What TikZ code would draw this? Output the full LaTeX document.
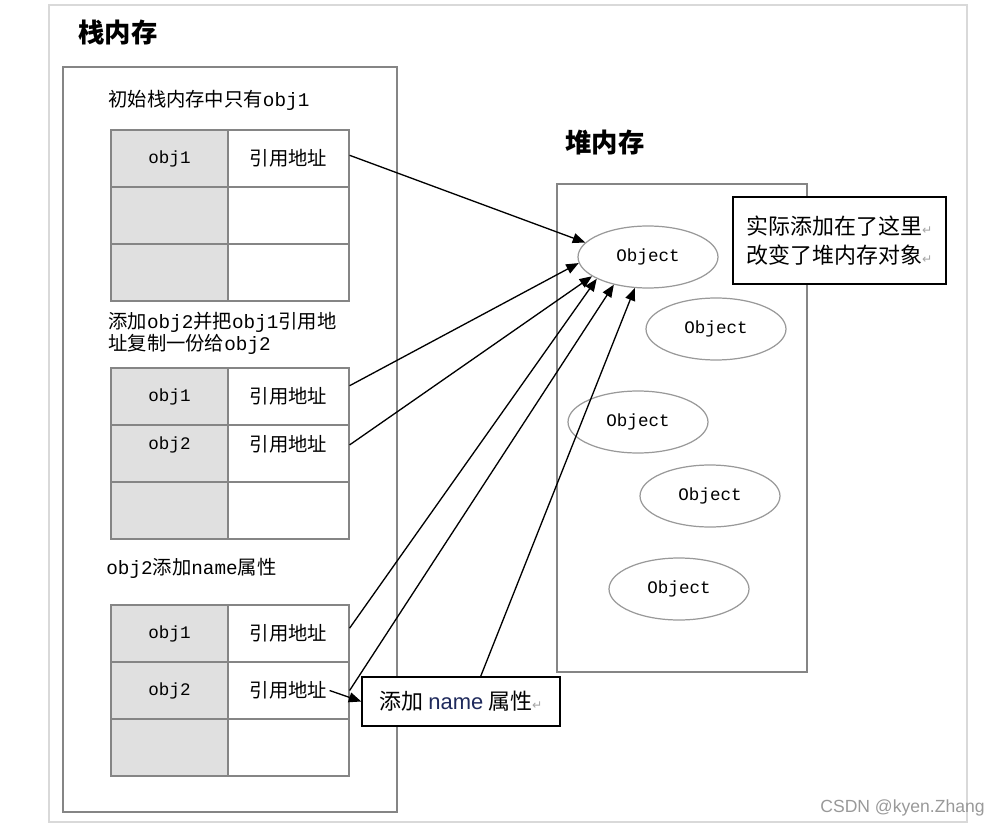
\documentclass[tikz,border=0pt]{standalone}
\usepackage{fontspec}
\setmainfont{Noto Sans CJK SC}
\setmonofont{Liberation Mono}
\newfontfamily\symfont{DejaVu Sans}
\newfontfamily\latinsans{Liberation Sans}
\usepackage{tikz}
\usetikzlibrary{shapes.geometric, arrows.meta}
\definecolor{cellgray}{HTML}{E0E0E0}
\definecolor{linegray}{HTML}{858585}
\definecolor{namecolor}{HTML}{1F2A5C}
\newcommand{\retmark}{{\symfont\color{gray!70}\fontsize{7}{8}\selectfont ↵}}

\begin{document}
\begin{tikzpicture}[x=0.02cm, y=-0.02cm, every node/.style={inner sep=0pt},
  cell/.style={draw=linegray, line width=0.7pt, minimum height=1.14cm, font=\fontsize{11}{13}\selectfont},
  keycell/.style={cell, fill=cellgray, minimum width=2.34cm, font=\ttfamily\fontsize{10}{12}\selectfont},
  refcell/.style={cell, fill=white, minimum width=2.42cm},
  obj/.style={ellipse, draw=gray!80, line width=0.7pt, minimum width=2.8cm, minimum height=1.24cm, font=\ttfamily\fontsize{10}{12}\selectfont},
  note/.style={draw=black, fill=white, line width=0.8pt, font=\fontsize{12.5}{16.5}\selectfont},
  caption/.style={anchor=west, align=left, font=\fontsize{11}{11.5}\selectfont},
  title/.style={anchor=west, font=\bfseries\fontsize{15}{18}\selectfont},
  link/.style={-{Triangle[length=0.25cm, width=0.2cm]}, line width=0.75pt}]
  \useasboundingbox (0,0) rectangle (1000,827);
  \draw[gray!30, line width=0.7pt] (49,5) rectangle (967,822);
  \draw[linegray, line width=0.7pt] (63,67) rectangle (397,812);
  \draw[linegray, line width=0.7pt] (557,184) rectangle (807,672);
  \node[title] (stk) at (78,33) {栈内存};
  \node[title] (hp) at (565,143) {堆内存};
  \node[caption] (c1) at (108,100) {初始栈内存中只有\texttt{obj1}};
  \node[keycell] (k1a) at (169.5,158.5) {obj1};
  \node[refcell] (r1a) at (288.5,158.5) {引用地址};
  \node[keycell] (k1b) at (169.5,215.5) {};
  \node[refcell] (r1b) at (288.5,215.5) {};
  \node[keycell] (k1c) at (169.5,272.5) {};
  \node[refcell] (r1c) at (288.5,272.5) {};
  \node[caption] (c2) at (108,333) {添加\texttt{obj2}并把\texttt{obj1}引用地\\址复制一份给\texttt{obj2}};
  \node[keycell] (k2a) at (169.5,396.5) {obj1};
  \node[refcell] (r2a) at (288.5,396.5) {引用地址};
  \node[keycell] (k2b) at (169.5,453.5) {\raisebox{0.4cm}{obj2}};
  \node[refcell] (r2b) at (288.5,453.5) {\raisebox{0.4cm}{引用地址}};
  \node[keycell] (k2c) at (169.5,510.5) {};
  \node[refcell] (r2c) at (288.5,510.5) {};
  \node[caption] (c3) at (106,568) {\texttt{obj2}添加\texttt{name}属性};
  \node[keycell] (k3a) at (169.5,633.5) {obj1};
  \node[refcell] (r3a) at (288.5,633.5) {引用地址};
  \node[keycell] (k3b) at (169.5,690.5) {obj2};
  \node[refcell] (r3b) at (288.5,690.5) {引用地址};
  \node[keycell] (k3c) at (169.5,747.5) {};
  \node[refcell] (r3c) at (288.5,747.5) {};
  \node[obj] (o1) at (648,257) {Object};
  \node[obj] (o2) at (716,329) {Object};
  \node[obj] (o3) at (638,422) {Object};
  \node[obj] (o4) at (710,496) {Object};
  \node[obj] (o5) at (679,589) {Object};
  \node[note, align=left, minimum width=4.26cm, minimum height=1.74cm] (n1) at (839.5,240.5) {实际添加在了这里\retmark\\改变了堆内存对象\retmark};
  \node[note, minimum width=3.96cm, minimum height=0.98cm] (n2) at (461,701.5) {添加 {\latinsans\color{namecolor}name} 属性\retmark};
  \draw[link] (r1a.3) -- (o1.167);
  \draw[link] (r2a.10) -- (o1.185);
  \draw[link] (r2b.8) -- (o1.199);
  \draw[link] (r3a.5) -- (o1.203);
  \draw[link] (r3b.east) -- (o1.219);
  \draw[link] ([xshift=-0.4cm]r3b.east) -- (n2.west);
  \draw[link] (n2.52) -- (o1.247);
  \node[anchor=east, text=gray!80, font=\latinsans\fontsize{10}{12}\selectfont] (src) at (985,808) {CSDN @kyen.Zhang};
\end{tikzpicture}
\end{document}
